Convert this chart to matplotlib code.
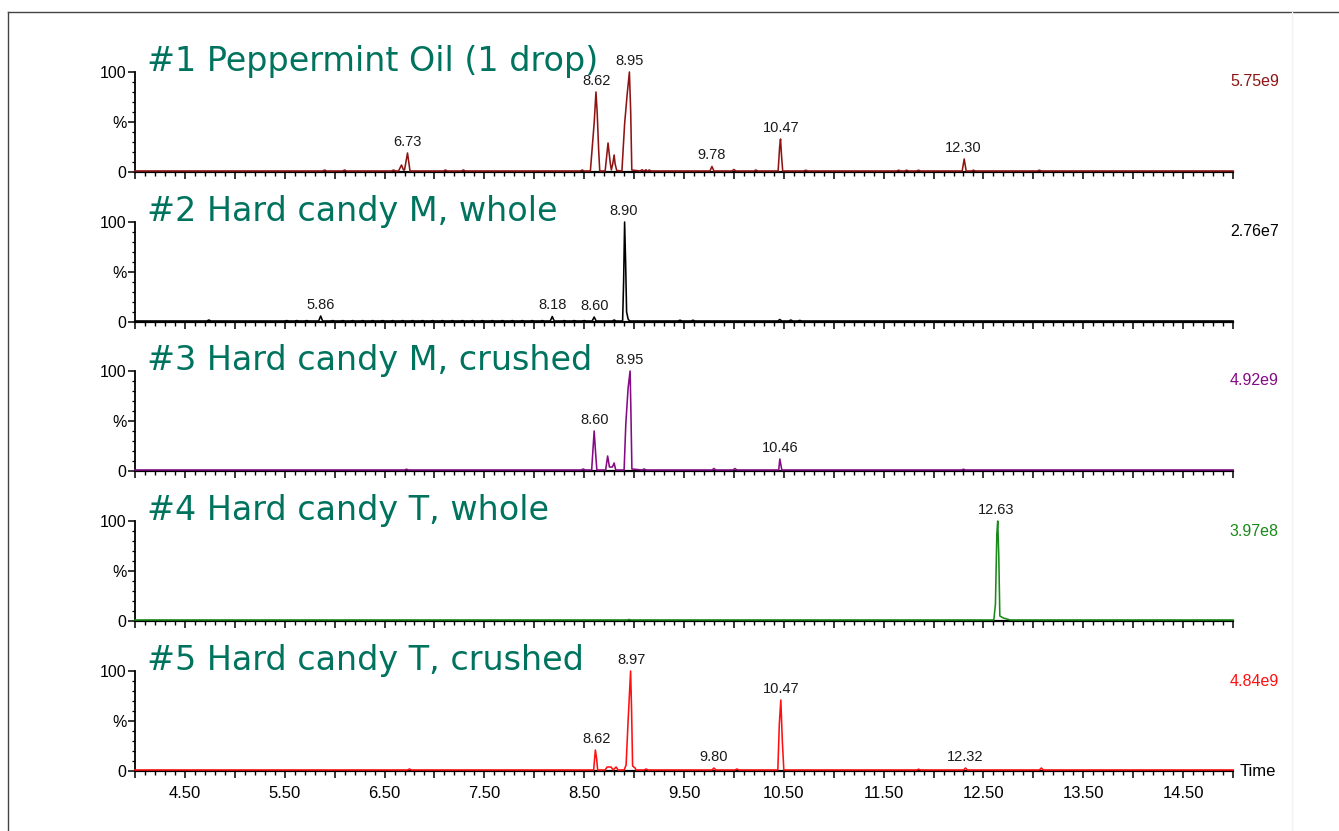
import numpy as np
import matplotlib.pyplot as plt
from matplotlib.lines import Line2D

# Chromatogram panels (TIC, % of panel maximum)
t_start, t_end = 4.0, 15.0
tick_labels = ["4.50", "5.50", "6.50", "7.50", "8.50", "9.50",
               "10.50", "11.50", "12.50", "13.50", "14.50"]

titles = ["#1 Peppermint Oil (1 drop)", "#2 Hard candy M, whole",
          "#3 Hard candy M, crushed", "#4 Hard candy T, whole",
          "#5 Hard candy T, crushed"]
scales = ["5.75e9", "2.76e7", "4.92e9", "3.97e8", "4.84e9"]
colors = ["#8e1414", "#000000", "#850a85", "#1a8a1a", "#ff1010"]
baseline = 1.0

# shaped peaks: digitized vertices (time, %)
p1_t = [6.64, 6.67, 6.69, 6.70, 6.73, 6.755,
        8.562, 8.600, 8.618, 8.630, 8.645, 8.656,
        8.71, 8.739, 8.76, 8.772, 8.786, 8.80, 8.81, 8.826,
        8.878, 8.905, 8.93, 8.953, 8.966, 8.977,
        10.443, 10.458, 10.467, 10.478, 10.489]
p1_v = [1, 7, 2, 2, 19, 1,
        1, 49, 80, 60, 22, 1,
        1, 29, 10, 2, 8, 17, 8, 1.5,
        1, 48, 77, 100, 60, 2,
        1, 25, 33, 15, 1]
p1_bump_t = [5.90, 6.10, 6.59, 7.11, 7.29, 8.48, 9.08, 9.12, 9.15, 9.78,
             10.00, 10.22, 10.72, 11.65, 11.73, 11.85, 12.307, 12.40, 13.06]
p1_bump_h = [2, 2, 2, 2, 2, 2, 2.2, 2.2, 2, 5.5,
             2.5, 2, 1.8, 1.8, 1.8, 1.8, 13, 1.8, 1.8]
p1_labels = ["6.73", "8.62", "8.95", "9.78", "10.47", "12.30"]
p1_label_h = [19, 80, 100, 5.5, 33, 13]

p2_t = [8.885, 8.895, 8.905, 8.915, 8.925, 8.94, 8.955]
p2_v = [1, 40, 100, 60, 10, 3, 1]
p2_bump_t = [4.74, 5.52, 5.62, 5.72, 5.86, 5.98, 6.08, 6.18, 6.28, 6.38,
             6.48, 6.58, 6.68, 6.78, 6.88, 6.98, 7.08, 7.18, 7.28, 7.38,
             7.48, 7.58, 7.68, 7.78, 7.88, 7.98, 8.08, 8.18, 8.30, 8.40,
             8.50, 8.60, 8.80, 9.46, 9.59, 10.46, 10.57, 10.66]
p2_bump_h = [2, 1.4, 1.4, 1.4, 6, 1.4, 1.4, 1.4, 1.4, 1.4,
             1.4, 1.4, 1.4, 1.4, 1.4, 1.4, 1.4, 1.4, 1.4, 1.4,
             1.4, 1.4, 1.4, 1.4, 1.4, 1.4, 1.4, 5.5, 1.4, 1.4,
             1.4, 5, 2, 1.8, 1.8, 2.5, 2, 1.6]
p2_labels = ["5.86", "8.18", "8.60", "8.90"]
p2_label_h = [6, 5.5, 5, 100]

p3_t = [8.575, 8.60, 8.615, 8.627,
        8.715, 8.735, 8.753, 8.783, 8.80, 8.816,
        8.90, 8.917, 8.94, 8.96, 8.968, 8.978,
        10.449, 10.46, 10.48]
p3_v = [1, 40, 17, 1,
        1, 15, 4, 4, 8, 1,
        1, 47, 83, 100, 60, 2,
        1, 12, 1]
p3_bump_t = [6.72, 8.49, 9.10, 9.80, 10.01, 12.30]
p3_bump_h = [1.8, 2, 2, 2.5, 2.5, 1.8]
p3_labels = ["8.60", "8.95", "10.46"]
p3_label_h = [40, 100, 12]

p4_t = [12.604, 12.62, 12.634, 12.643, 12.654, 12.664, 12.70, 12.77]
p4_v = [1, 17, 87, 100, 63, 5, 3, 1]
p4_bump_t = [8.95]
p4_bump_h = [1.5]
p4_labels = ["12.63"]
p4_label_h = [100]

p5_t = [8.595, 8.612, 8.625, 8.635,
        8.71, 8.73, 8.77, 8.79, 8.82, 8.84,
        8.90, 8.92, 8.94, 8.965, 8.975, 8.985, 9.01, 9.02,
        10.44, 10.455, 10.47, 10.485, 10.50]
p5_v = [1, 21, 12, 1,
        1, 4, 4, 1, 4, 1,
        1, 6, 50, 100, 60, 5, 3, 1,
        1, 47, 71, 30, 1]
p5_bump_t = [6.75, 9.12, 9.80, 10.03, 11.85, 12.32, 13.08]
p5_bump_h = [2, 2, 3, 2, 1.8, 3, 3]
p5_labels = ["8.62", "8.97", "9.80", "10.47", "12.32"]
p5_label_h = [21, 100, 3, 71, 3]

panels = [(p1_t, p1_v, p1_bump_t, p1_bump_h, p1_labels, p1_label_h),
          (p2_t, p2_v, p2_bump_t, p2_bump_h, p2_labels, p2_label_h),
          (p3_t, p3_v, p3_bump_t, p3_bump_h, p3_labels, p3_label_h),
          (p4_t, p4_v, p4_bump_t, p4_bump_h, p4_labels, p4_label_h),
          (p5_t, p5_v, p5_bump_t, p5_bump_h, p5_labels, p5_label_h)]


def trace(pt, pv, bt, bh):
    pts = list(zip(pt, pv))
    for t, h in zip(bt, bh):
        pts += [(t - 0.02, baseline), (t, h), (t + 0.02, baseline)]
    pts.sort()
    pts = [(t_start, baseline)] + pts + [(t_end, baseline)]
    return [p[0] for p in pts], [p[1] for p in pts]


W, H = 1339, 831
fig = plt.figure(figsize=(W / 100, H / 100), dpi=100)

# frame of the original screenshot
fig.add_artist(Line2D([8 / W, 1], [1 - 12 / H, 1 - 12 / H], color="#444444", lw=1))
fig.add_artist(Line2D([8 / W, 8 / W], [0, 1 - 12 / H], color="#444444", lw=1))
fig.add_artist(Line2D([1292 / W, 1292 / W], [0, 1 - 12 / H], color="#f2f2f2", lw=1))

zero_px = [172, 322, 471, 621, 771]
major = np.arange(t_start, t_end + 0.01, 0.5)
label_pos = [float(s) for s in tick_labels]

for i, (pt, pv, bt, bh, labs, lab_h) in enumerate(panels):
    ax = fig.add_axes([135 / W, 1 - zero_px[i] / H, 1098 / W, 100 / H])
    x, y = trace(pt, pv, bt, bh)
    ax.plot(x, y, color=colors[i], lw=1.15, clip_on=False, zorder=3)
    ax.set_xlim(t_start, t_end)
    ax.set_ylim(0, 100)
    for s in ["top", "right"]:
        ax.spines[s].set_visible(False)
    ax.spines["left"].set_linewidth(1.3)
    ax.spines["bottom"].set_linewidth(1.6)

    ax.set_xticks(major)
    ax.set_xticks(np.arange(t_start, t_end + 0.01, 0.1), minor=True)
    if i == len(panels) - 1:
        ax.set_xticklabels([tick_labels[label_pos.index(m)] if m in label_pos else ""
                            for m in major])
        ax.text(t_end + 0.07, -1, "Time", ha="left", va="center",
                fontsize=12, family="Liberation Sans")
    else:
        ax.set_xticklabels([])
    ax.tick_params(axis="x", which="major", length=5, width=1.1, pad=6,
                   labelsize=12, direction="out")
    ax.tick_params(axis="x", which="minor", length=3, width=1, direction="out")

    ax.set_yticks([0, 50, 100])
    ax.set_yticklabels(["0", "%", "100"])
    ax.set_yticks(np.arange(0, 101, 10), minor=True)
    ax.tick_params(axis="y", which="major", length=5, width=1.1, pad=1,
                   labelsize=11.5)
    ax.tick_params(axis="y", which="minor", length=2.5, width=0.9)
    for lab in ax.get_xticklabels() + ax.get_yticklabels():
        lab.set_family("Liberation Sans")

    # sample title
    ax.text(4.12, 101, titles[i], ha="left", va="baseline", fontsize=24,
            color="#00735f", family="DejaVu Sans", clip_on=False)
    # full scale intensity
    ax.text(15.46, 90, scales[i], ha="right", va="center", fontsize=11.5,
            color=colors[i], family="Liberation Sans", clip_on=False)
    # peak retention times
    for s, h in zip(labs, lab_h):
        ax.annotate(s, (float(s), h), xytext=(0, 3), textcoords="offset points",
                    ha="center", va="bottom", fontsize=10.5, color="#1a1a1a",
                    family="Liberation Sans", annotation_clip=False)

fig.savefig("out.png", dpi=100)
